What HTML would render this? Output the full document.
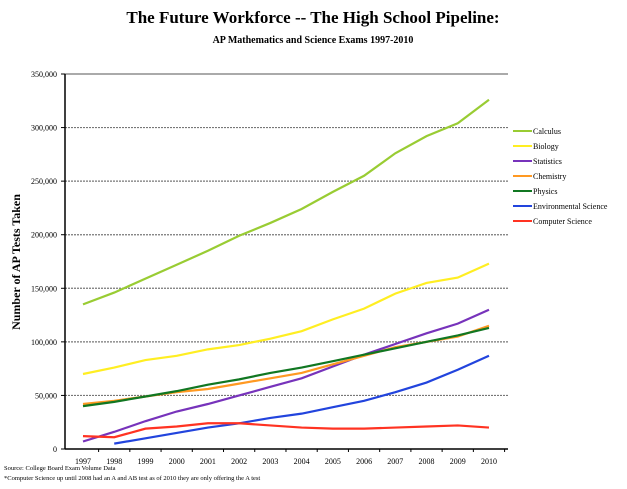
<!DOCTYPE html>
<html><head><meta charset="utf-8"><style>
body{margin:0;background:#fff;}
svg{display:block;font-family:"Liberation Serif",serif;}
</style></head><body>
<svg id="s" width="627" height="489" xmlns="http://www.w3.org/2000/svg">
<text x="313" y="23" text-anchor="middle" font-size="17" font-weight="bold">The Future Workforce -- The High School Pipeline:</text>
<text x="313" y="43" text-anchor="middle" font-size="10" font-weight="bold">AP Mathematics and Science Exams 1997-2010</text>
<text transform="translate(20,262) rotate(-90)" text-anchor="middle" font-size="12" font-weight="bold">Number of  AP Tests Taken</text>
<g id="g"></g>
<text x="4" y="470" font-size="6.5">Source: College Board Exam Volume Data</text>
<text x="4" y="480" font-size="6.5">*Computer Science up until 2008 had an A and AB test as of 2010 they are only offering the A test</text>
</svg>
<script>
(function(){
var g=document.getElementById('g'),h='';
var T=74,B=449,L=65,R=508;
function Y(v){return B-(B-T)*v/350;}
function X(i){return 83+i*31.23;}
for(var k=0;k<=7;k++){var y=Y(k*50);
 if(k>0)h+='<line x1="'+L+'" x2="'+R+'" y1="'+y+'" y2="'+y+'" stroke="#777" stroke-width="1.2"'+(k==7?'':' stroke-dasharray="2,1"')+'/>';
 h+='<line x1="61" x2="'+L+'" y1="'+y+'" y2="'+y+'" stroke="#000"/>';
 h+='<text x="57" y="'+(y+3)+'" text-anchor="end" font-size="8">'+(k==0?'0':(k*50)+',000')+'</text>';}
h+='<line x1="'+L+'" x2="'+L+'" y1="'+T+'" y2="'+B+'" stroke="#000" stroke-width="1.5"/>';
h+='<line x1="'+L+'" x2="'+R+'" y1="'+B+'" y2="'+B+'" stroke="#000" stroke-width="1.5"/>';
for(var i=0;i<14;i++){h+='<line x1="'+(X(i)+15.6)+'" x2="'+(X(i)+15.6)+'" y1="'+B+'" y2="'+(B+3)+'" stroke="#000"/>';
 h+='<text x="'+X(i)+'" y="464" text-anchor="middle" font-size="8">'+(1997+i)+'</text>';}
var S=[
["Calculus","#99cc33",[135,146,159,172,185,199,211,224,240,255,276,292,304,326]],
["Biology","#ffee22",[70,76,83,87,93,97,103,110,121,131,145,155,160,173]],
["Statistics","#7733bb",[7,16,26,35,42,50,58,66,77,88,98,108,117,130]],
["Chemistry","#ff9922",[42,45,49,53,56,61,66,71,79,87,95,100,105,115]],
["Physics","#117722",[40,44,49,54,60,65,71,76,82,88,94,100,106,113]],
["Environmental Science","#2244dd",[null,5,10,15,20,24,29,33,39,45,53,62,74,87]],
["Computer Science","#ff3322",[12,11,19,21,24,24,22,20,19,19,20,21,22,20]]];
S.forEach(function(s,j){var p=[];s[2].forEach(function(v,i){if(v!==null)p.push(X(i)+','+Y(v));});
 h+='<polyline points="'+p.join(' ')+'" fill="none" stroke="'+s[1]+'" stroke-width="2.2"/>';
 var ly=131+j*15;h+='<line x1="513" x2="532" y1="'+ly+'" y2="'+ly+'" stroke="'+s[1]+'" stroke-width="2"/>';
 h+='<text x="533" y="'+(ly+3)+'" font-size="8">'+s[0]+'</text>';});
g.innerHTML=h;
})();
</script>
</body></html>
